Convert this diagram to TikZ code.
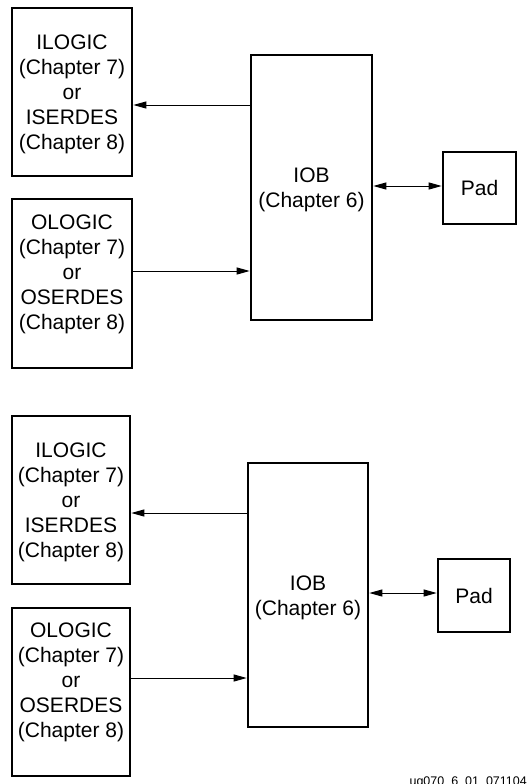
\documentclass[tikz,border=0pt]{standalone}
\usepackage{fontspec}
\setmainfont{Liberation Sans}
\usetikzlibrary{arrows.meta}
\begin{document}
\begin{tikzpicture}[x=1pt,y=-1pt,
  blockbox/.style={draw=black,line width=2.6pt,minimum width=#1,inner sep=0pt},
  label/.style={align=center,inner sep=0pt,anchor=north,font=\fontsize{21}{24.8}\selectfont},
  conn/.style={line width=1pt,-{Triangle[length=13pt,width=7pt]}},
  biconn/.style={line width=1pt,{Triangle[length=13pt,width=7pt]}-{Triangle[length=13pt,width=7pt]}}]
\useasboundingbox (0,0) rectangle (529,784);

% ---------- upper arrangement ----------
\node[blockbox=120pt,minimum height=168pt] (il1) at (72,92) {};
\node[label] (il1t) at (72,35) {ILOGIC\\(Chapter 7)\\or\\ISERDES\\(Chapter 8)};
\node[blockbox=120pt,minimum height=169pt] (ol1) at (72,283.5) {};
\node[label] (ol1t) at (72,215) {OLOGIC\\(Chapter 7)\\or\\OSERDES\\(Chapter 8)};
\node[blockbox=121pt,minimum height=265pt] (iob1) at (311.5,187.5) {};
\node[label] (iob1t) at (311.5,168) {IOB\\(Chapter 6)};
\node[blockbox=73pt,minimum height=72pt,font=\fontsize{21}{24.8}\selectfont] (pad1) at (479.5,188) {Pad};

\draw[conn] (iob1.west |- 0,105) -- (il1.east |- 0,105);
\draw[conn] (ol1.east |- 0,271) -- (iob1.west |- 0,271);
\draw[biconn] (iob1.east |- 0,186) -- (pad1.west |- 0,186);

% ---------- lower arrangement ----------
\node[blockbox=118pt,minimum height=168pt] (il2) at (71,500) {};
\node[label] (il2t) at (71,443) {ILOGIC\\(Chapter 7)\\or\\ISERDES\\(Chapter 8)};
\node[blockbox=118pt,minimum height=168pt] (ol2) at (71,692) {};
\node[label] (ol2t) at (71,623) {OLOGIC\\(Chapter 7)\\or\\OSERDES\\(Chapter 8)};
\node[blockbox=120pt,minimum height=264pt] (iob2) at (308,595) {};
\node[label] (iob2t) at (308,576) {IOB\\(Chapter 6)};
\node[blockbox=72pt,minimum height=73pt,font=\fontsize{21}{24.8}\selectfont] (pad2) at (474,595.5) {Pad};

\draw[conn] (iob2.west |- 0,513) -- (il2.east |- 0,513);
\draw[conn] (ol2.east |- 0,678) -- (iob2.west |- 0,678);
\draw[biconn] (iob2.east |- 0,593) -- (pad2.west |- 0,593);

% figure tag
\node[anchor=base east,inner sep=0pt,font=\fontsize{12.5}{14}\selectfont] (tag) at (527,785) {ug070\_6\_01\_071104};
\end{tikzpicture}
\end{document}
